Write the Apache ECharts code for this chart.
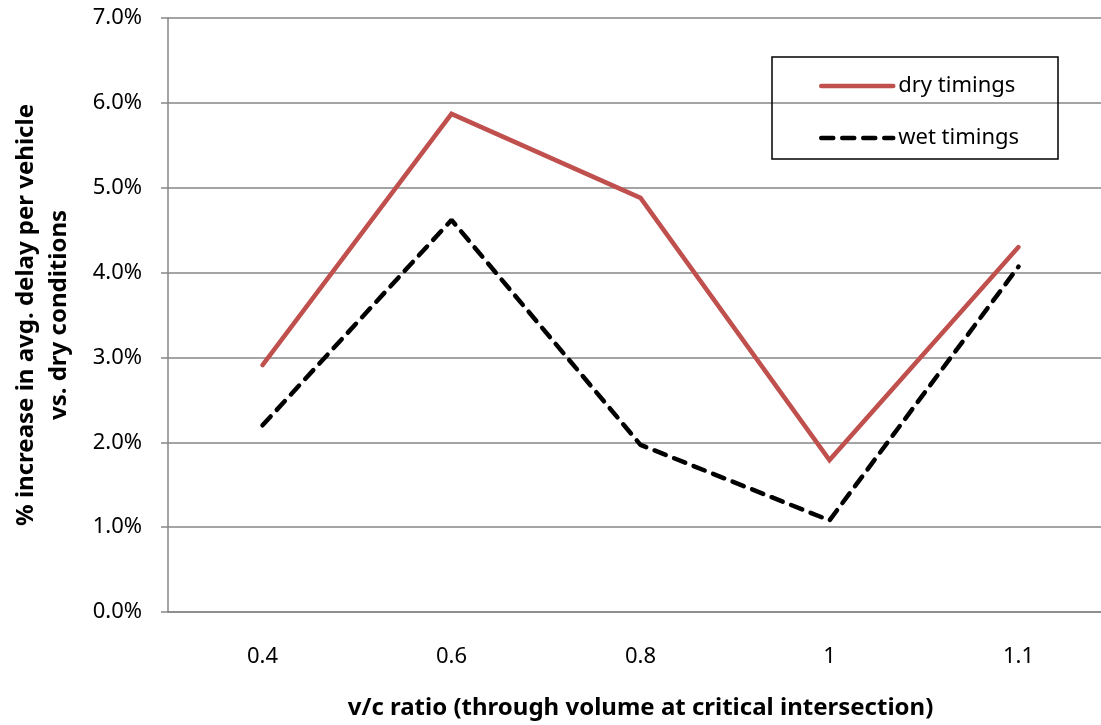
<!DOCTYPE html>
<html><head><meta charset="utf-8">
<script src="https://cdn.jsdelivr.net/npm/echarts@6/dist/echarts.min.js"></script>
<style>html,body{margin:0;padding:0;background:#fff}#c{width:1101px;height:725px}</style>
</head><body><div id="c"></div>
<script>
const categories = ['0.4', '0.6', '0.8', '1', '1.1'];
const dryTimings = [2.91, 5.87, 4.88, 1.79, 4.30];
const wetTimings = [2.20, 4.62, 1.97, 1.08, 4.07];
const yTickValues = [0, 1, 2, 3, 4, 5, 6, 7];

const chart = echarts.init(document.getElementById('c'));
const font = 'Noto Sans';
chart.setOption({
  animation: false,
  backgroundColor: '#fff',
  grid: { left: 168, right: -12, top: 18, bottom: 113, containLabel: false, outerBoundsMode: 'none' },
  legend: {
    show: true, orient: 'vertical', left: 814, top: 70, itemWidth: 72, itemHeight: 16, itemGap: 30,
    textStyle: { fontFamily: font, fontSize: 22, color: '#000' },
    itemStyle: { opacity: 0 },
    lineStyle: { width: 4.5 },
    data: ['dry timings', 'wet timings']
  },
  graphic: [{ type: 'rect', shape: { x: 772, y: 57, width: 286, height: 102 },
    style: { fill: 'none', stroke: '#000', lineWidth: 1.5 }, z: 100 }],
  xAxis: {
    type: 'category', data: categories, boundaryGap: true,
    axisLine: { lineStyle: { color: '#868686', width: 1.5 } },
    axisTick: { length: 8, lineStyle: { color: '#868686', width: 1.5 } },
    axisLabel: { fontFamily: font, fontSize: 22, color: '#000', margin: 34 },
    name: 'v/c ratio (through volume at critical intersection)', nameLocation: 'middle', nameGap: 84,
    nameTextStyle: { fontFamily: font, fontSize: 24, fontWeight: 'bold', color: '#000' }
  },
  yAxis: {
    type: 'value', min: 0, max: 7, interval: 1,
    axisLine: { show: true, lineStyle: { color: '#868686', width: 1.5 } },
    axisTick: { show: true, length: 7, lineStyle: { color: '#868686', width: 1.5 } },
    splitLine: { lineStyle: { color: '#868686', width: 1.5 } },
    axisLabel: { fontFamily: font, fontSize: 22, color: '#000', margin: 26,
      formatter: v => yTickValues.includes(v) ? v.toFixed(1) + '%' : '' },
    name: '% increase in avg. delay per vehicle\nvs. dry conditions', nameLocation: 'middle', nameGap: 92,
    nameTextStyle: { fontFamily: font, fontSize: 24, fontWeight: 'bold', color: '#000', lineHeight: 33 }
  },
  series: [
    { name: 'dry timings', type: 'line', data: dryTimings, symbol: 'none',
      lineStyle: { color: '#C0504D', width: 4.5, cap: 'round', join: 'miter' }, itemStyle: { color: '#C0504D' } },
    { name: 'wet timings', type: 'line', data: wetTimings, symbol: 'none',
      lineStyle: { color: '#000', width: 4.5, type: [12, 9], cap: 'round' }, itemStyle: { color: '#000' } }
  ]
});
</script></body></html>
